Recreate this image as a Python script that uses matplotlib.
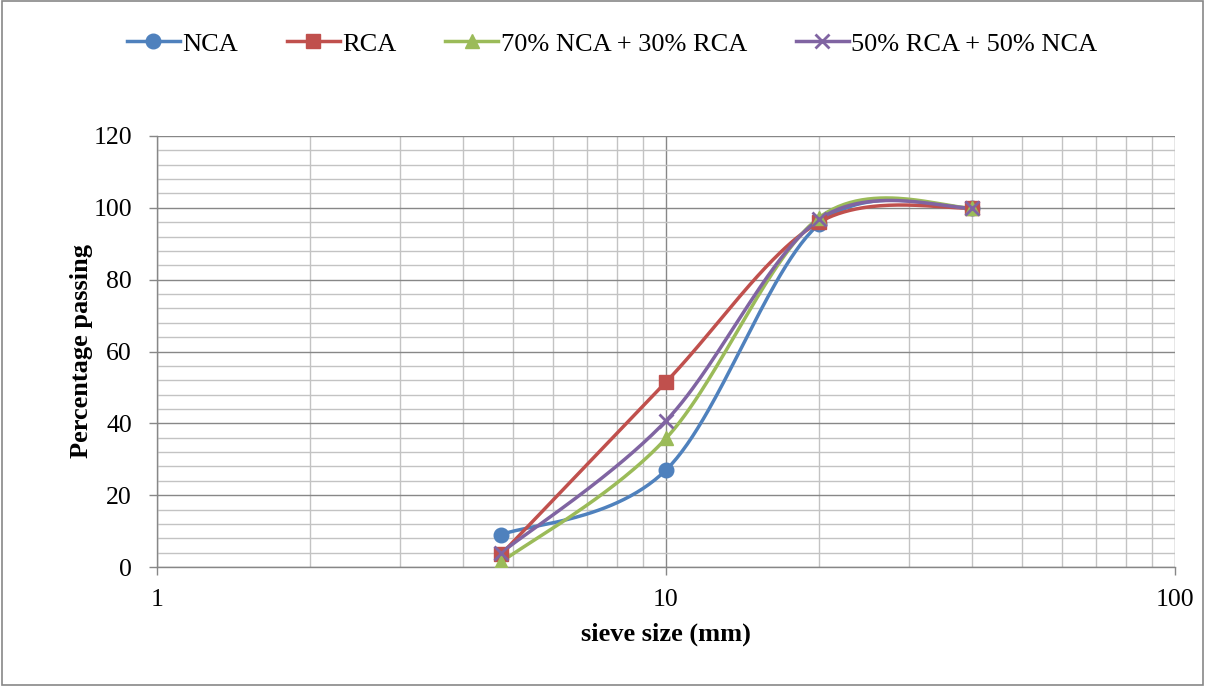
import numpy as np
import matplotlib
matplotlib.use("Agg")
import matplotlib.pyplot as plt
from matplotlib.patches import Rectangle

# sieve sizes (mm) and percentage passing
sieve = [4.75, 10, 20, 40]
nca = [9.0, 27.0, 95.5, 100.0]
rca = [3.6, 51.5, 96.0, 100.0]
mix_70_30 = [1.4, 35.8, 97.3, 100.0]
mix_50_50 = [4.0, 40.7, 96.8, 100.0]

series = [
    ("NCA", nca, "#4F81BD", "o", 10.5),
    ("RCA", rca, "#C0504D", "s", 9.5),
    ("70% NCA + 30% RCA", mix_70_30, "#9BBB59", "^", 10.5),
    ("50% RCA + 50% NCA", mix_50_50, "#8064A2", "x", 9.5),
]

plt.rcParams['font.family'] = ['Liberation Serif', 'DejaVu Serif']

# Excel-like smoothed line, computed in (approx) screen space
XS, YS = 509.0, 3.59


def smooth(xs, ys, n=60):
    p = np.column_stack([np.log10(xs) * XS, np.asarray(ys) * YS])
    out = []
    for i in range(len(p) - 1):
        p0 = p[max(i - 1, 0)]
        p1, p2 = p[i], p[i + 1]
        p3 = p[min(i + 2, len(p) - 1)]
        c1 = p1 + (p2 - p0) / 6.0
        c2 = p2 - (p3 - p1) / 6.0
        t = np.linspace(0, 1, n)[:, None]
        seg = ((1 - t) ** 3) * p1 + 3 * ((1 - t) ** 2) * t * c1 + 3 * (1 - t) * t ** 2 * c2 + t ** 3 * p2
        out.append(seg if i == 0 else seg[1:])
    out = np.vstack(out)
    return 10 ** (out[:, 0] / XS), out[:, 1] / YS


fig = plt.figure(figsize=(12.05, 6.86), dpi=100)
ax = fig.add_axes([157 / 1205, 1 - 567 / 686, (1175 - 157) / 1205, (567 - 136) / 686])

handles = []
for name, vals, col, mk, ms in series:
    sx, sy = smooth(sieve, vals)
    ax.plot(sx, sy, color=col, lw=2.5, zorder=3, solid_capstyle="round")
    ax.plot(sieve, vals, linestyle="none", marker=mk, color=col, ms=ms,
            mew=2 if mk == "x" else 1, zorder=4)
    h, = ax.plot([], [], color=col, lw=2.5, marker=mk, ms=ms, mew=2 if mk == "x" else 1)
    h.set_label(name)
    handles.append(h)

ax.set_xscale("log")
ax.set_xlim(1, 100)
ax.set_ylim(0, 120)
ax.set_yticks(np.arange(0, 121, 20))
ax.set_yticks(np.arange(0, 121, 4), minor=True)
ax.set_xticks([1, 10, 100])
ax.set_xticklabels(["1", "10", "100"])

ax.grid(True, which="major", color="#878787", lw=1.0, zorder=1)
ax.grid(True, which="minor", color="#C3C3C3", lw=1.0, zorder=0)
ax.set_axisbelow(True)

for s in ["top", "right"]:
    ax.spines[s].set_visible(False)
for s in ["left", "bottom"]:
    ax.spines[s].set_color("#878787")
    ax.spines[s].set_linewidth(1.0)

ax.tick_params(axis="both", which="major", labelsize=18.5, color="#878787",
               length=6, width=1, direction="out")
ax.tick_params(axis="y", which="major", pad=12)
ax.tick_params(axis="x", which="major", pad=10)
ax.tick_params(axis="both", which="minor", length=0)

ax.set_xlabel("sieve size (mm)", fontsize=19, fontweight="bold", labelpad=8)
ax.set_ylabel("Percentage passing", fontsize=19, fontweight="bold", labelpad=0)

fig.legend(handles=handles, loc="center", bbox_to_anchor=(0.508, 0.936), ncol=4,
           frameon=False, fontsize=19, handlelength=2.0, columnspacing=1.85,
           handletextpad=0.1)

fig.patches.append(Rectangle((0.002, 0.002), 0.996, 0.996, transform=fig.transFigure,
                             fill=False, edgecolor="#878787", lw=1.2))

fig.savefig("out.png", dpi=100)
